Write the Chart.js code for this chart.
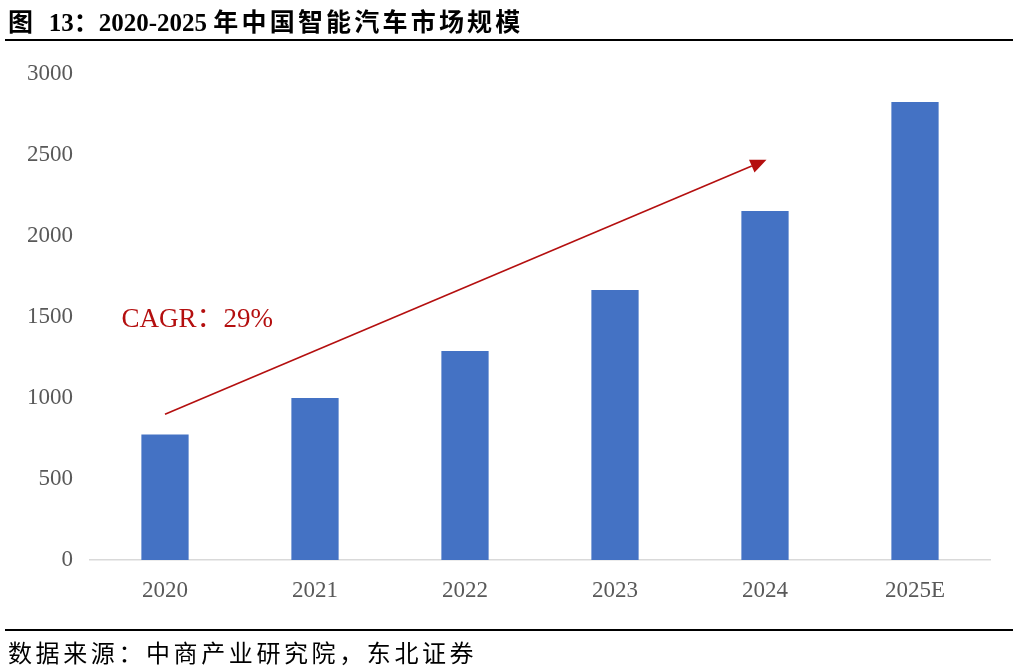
<!DOCTYPE html>
<html>
<head>
<meta charset="utf-8">
<script src="https://cdn.jsdelivr.net/npm/chart.js@4"></script>
<style>
  html, body { margin: 0; padding: 0; background: #fff; }
  #wrap { position: relative; width: 1020px; height: 666px; overflow: hidden; }
  #chart { position: absolute; left: 0; top: 0; }
  .title { position: absolute; left: 8px; top: 2px; font: bold 25px "Liberation Serif", "Noto Sans CJK SC", serif; color: #000; white-space: nowrap; }
  .cjk { letter-spacing: 3.2px; }
  .rule { position: absolute; left: 5px; width: 1008px; background: #000; }
  .source { position: absolute; left: 8px; top: 634px; font: 24px "Liberation Serif", "Noto Sans CJK SC", serif; color: #000; letter-spacing: 3.6px; white-space: nowrap; }
</style>
</head>
<body>
<div id="wrap">
  <canvas id="chart" width="1020" height="666"></canvas>
  <div class="title"><span class="cjk">图</span>&nbsp;&nbsp;13：2020-2025 <span class="cjk">年中国智能汽车市场规模</span></div>
  <div class="rule" style="top:39px;height:2px"></div>
  <div class="rule" style="top:629px;height:2px"></div>
  <div class="source">数据来源：中商产业研究院，东北证券</div>
</div>
<script>
const years = ['2020', '2021', '2022', '2023', '2024', '2025E'];
const marketSize = [775, 1000, 1290, 1667, 2154, 2827];
const yTicks = [0, 500, 1000, 1500, 2000, 2500, 3000];

// arrow + CAGR label, in data coordinates (category index, value)
const arrowFrom = [0, 900];
const arrowTo = [4.01, 2470];
const cagrLabel = 'CAGR：29%';
const cagrAt = [-0.29, 1480];

const RED = '#B40F0F';

const arrowPlugin = {
  id: 'cagrArrow',
  afterDatasetsDraw(chart) {
    const { ctx, scales: { x, y } } = chart;
    const x1 = x.getPixelForValue(arrowFrom[0]), y1 = y.getPixelForValue(arrowFrom[1]);
    const x2 = x.getPixelForValue(arrowTo[0]), y2 = y.getPixelForValue(arrowTo[1]);
    const ang = Math.atan2(y2 - y1, x2 - x1);
    const head = 16, half = 7;
    ctx.save();
    ctx.strokeStyle = RED;
    ctx.fillStyle = RED;
    ctx.lineWidth = 1.6;
    ctx.beginPath();
    ctx.moveTo(x1, y1);
    ctx.lineTo(x2 - head * Math.cos(ang), y2 - head * Math.sin(ang));
    ctx.stroke();
    ctx.beginPath();
    ctx.moveTo(x2, y2);
    ctx.lineTo(x2 - head * Math.cos(ang) + half * Math.sin(ang), y2 - head * Math.sin(ang) - half * Math.cos(ang));
    ctx.lineTo(x2 - head * Math.cos(ang) - half * Math.sin(ang), y2 - head * Math.sin(ang) + half * Math.cos(ang));
    ctx.closePath();
    ctx.fill();
    ctx.font = '27px "Liberation Serif", "Noto Sans CJK SC", serif';
    ctx.textBaseline = 'middle';
    ctx.fillText(cagrLabel, x.getPixelForValue(cagrAt[0]), y.getPixelForValue(cagrAt[1]));
    ctx.restore();
  }
};

new Chart(document.getElementById('chart'), {
  type: 'bar',
  data: {
    labels: years,
    datasets: [{
      data: marketSize,
      backgroundColor: '#4472C4',
      barPercentage: 0.63,
      categoryPercentage: 0.5,
    }],
  },
  options: {
    responsive: false,
    animation: false,
    layout: { padding: { top: 74, right: 30, left: 0, bottom: 0 } },
    plugins: { legend: { display: false }, tooltip: { enabled: false } },
    scales: {
      x: {
        grid: { display: false, drawTicks: false },
        border: { display: true, color: '#D9D9D9', width: 1.5 },
        ticks: { color: '#595959', padding: 17, font: { family: '"Liberation Serif", serif', size: 23 } },
        afterFit(scale) { scale.height = 106; },
      },
      y: {
        min: 0,
        max: 3000,
        afterBuildTicks(scale) { scale.ticks = yTicks.map(v => ({ value: v })); },
        grid: { display: false, drawTicks: false },
        border: { display: false },
        ticks: {
          color: '#595959',
          padding: 17,
          font: { family: '"Liberation Serif", serif', size: 23 },
          callback: v => String(v),
        },
        afterFit(scale) { scale.width = 90; },
      },
    },
  },
  plugins: [arrowPlugin],
});
</script>
</body>
</html>
